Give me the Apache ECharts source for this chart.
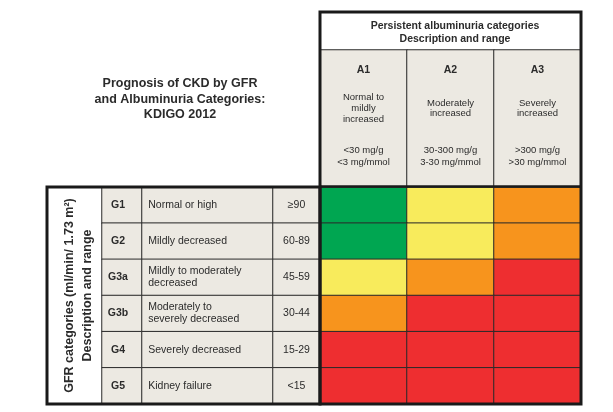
<!DOCTYPE html>
<html><head><meta charset="utf-8">
<script src="https://cdn.jsdelivr.net/npm/echarts@6/dist/echarts.min.js"></script>
<style>html,body{margin:0;padding:0;background:#fff}#c{width:613px;height:412px}</style>
</head><body><div id="c"></div>
<script>
const albCodes = ['A1', 'A2', 'A3'];
const albDesc = ['Normal to\nmildly\nincreased', 'Moderately\nincreased', 'Severely\nincreased'];
const albRange = ['<30 mg/g\n<3 mg/mmol', '30-300 mg/g\n3-30 mg/mmol', '>300 mg/g\n>30 mg/mmol'];
const gfrCodes = ['G1', 'G2', 'G3a', 'G3b', 'G4', 'G5'];
const gfrDesc = ['Normal or high', 'Mildly decreased', 'Mildly to moderately\ndecreased', 'Moderately to\nseverely decreased', 'Severely decreased', 'Kidney failure'];
const gfrRange = ['\u226590', '60-89', '45-59', '30-44', '15-29', '<15'];
// risk level per GFR row (G1..G5) and albuminuria column (A1..A3): 0 low, 1 moderate, 2 high, 3 very high
const riskLevels = [
  [0, 1, 2],
  [0, 1, 2],
  [1, 2, 3],
  [2, 3, 3],
  [3, 3, 3],
  [3, 3, 3]
];
const riskColors = ['#00a651', '#f8eb5c', '#f7941d', '#ee2e30'];

const FONT = '"Liberation Sans", Arial, Helvetica, sans-serif';
const TXT = '#2b2b2b';
const BEIGE = '#ece9e2';
const LINE = '#2a2a2a';

function hiddenCat(data, gridIndex, inverse) {
  return { type: 'category', data: data, gridIndex: gridIndex, inverse: !!inverse,
    axisLine: { show: false }, axisTick: { show: false }, axisLabel: { show: false }, splitLine: { show: false } };
}

const riskData = [];
riskLevels.forEach((row, r) => row.forEach((v, c) => {
  riskData.push({ value: [c, r, v], itemStyle: { color: riskColors[v] } });
}));

const headerData = albCodes.map((a, i) => [i, 0, 0]);
const rowData = gfrCodes.map((g, i) => [0, i, 0]);

const chart = echarts.init(document.getElementById('c'), null, { renderer: 'canvas' });

const xAxes = [
  hiddenCat(albCodes, 0),
  hiddenCat(albCodes, 1),
  hiddenCat(['code'], 2),
  hiddenCat(['desc'], 3),
  hiddenCat(['range'], 4)
];
const yAxes = [
  hiddenCat(gfrCodes, 0, true),
  hiddenCat(['hdr'], 1),
  Object.assign(hiddenCat(gfrCodes, 2, true), {
    name: 'GFR categories (ml/min/ 1.73 m\u00b2)\nDescription and range',
    nameLocation: 'middle', nameRotate: 90, nameGap: 5,
    nameTextStyle: { fontFamily: FONT, fontWeight: 'bold', fontSize: 12.5, color: TXT, lineHeight: 18, align: 'center' }
  }),
  hiddenCat(gfrCodes, 3, true),
  hiddenCat(gfrCodes, 4, true)
];

const cellStyle = { color: BEIGE, borderColor: LINE, borderWidth: 1 };

const option = {
  animation: false,
  backgroundColor: '#ffffff',
  title: [
    { text: 'Prognosis of CKD by GFR\nand Albuminuria Categories:\nKDIGO 2012', left: 175, top: 71, textAlign: 'center',
      textStyle: { fontFamily: FONT, fontWeight: 'bold', fontSize: 12.5, color: TXT, lineHeight: 15.5 } },
    { text: 'Persistent albuminuria categories\nDescription and range', left: 450, top: 15, textAlign: 'center',
      textStyle: { fontFamily: FONT, fontWeight: 'bold', fontSize: 10.5, color: TXT, lineHeight: 13 } }
  ],
  grid: [
    { left: 320, top: 187, width: 261, height: 217 },
    { left: 320, top: 50, width: 261, height: 137 },
    { left: 102, top: 187, width: 40, height: 217 },
    { left: 142, top: 187, width: 131, height: 217 },
    { left: 273, top: 187, width: 47, height: 217 }
  ],
  xAxis: xAxes,
  yAxis: yAxes,
  series: [
    { type: 'heatmap', xAxisIndex: 0, yAxisIndex: 0, data: riskData,
      itemStyle: { borderColor: LINE, borderWidth: 1 }, emphasis: { disabled: true } },
    { type: 'heatmap', xAxisIndex: 1, yAxisIndex: 1, data: headerData, itemStyle: cellStyle, emphasis: { disabled: true },
      label: { show: true, offset: [0, -48], formatter: p => albCodes[p.value[0]],
        fontFamily: FONT, fontWeight: 'bold', fontSize: 10.5, color: TXT } },
    { type: 'heatmap', xAxisIndex: 1, yAxisIndex: 1, data: headerData, itemStyle: { color: 'rgba(0,0,0,0)' }, emphasis: { disabled: true },
      label: { show: true, offset: [0, -10], formatter: p => albDesc[p.value[0]],
        fontFamily: FONT, fontSize: 9.5, color: TXT, lineHeight: 10.7 } },
    { type: 'heatmap', xAxisIndex: 1, yAxisIndex: 1, data: headerData, itemStyle: { color: 'rgba(0,0,0,0)' }, emphasis: { disabled: true },
      label: { show: true, offset: [0, 38], formatter: p => albRange[p.value[0]],
        fontFamily: FONT, fontSize: 9.5, color: TXT, lineHeight: 11.5 } },
    { type: 'heatmap', xAxisIndex: 2, yAxisIndex: 2, data: rowData, itemStyle: cellStyle, emphasis: { disabled: true },
      label: { show: true, offset: [-4, 0], formatter: p => gfrCodes[p.value[1]],
        fontFamily: FONT, fontWeight: 'bold', fontSize: 10.5, color: TXT } },
    { type: 'heatmap', xAxisIndex: 3, yAxisIndex: 3, data: rowData, itemStyle: cellStyle, emphasis: { disabled: true },
      label: { show: true, position: 'insideLeft', distance: 7, formatter: p => gfrDesc[p.value[1]],
        fontFamily: FONT, fontSize: 10.5, color: TXT, lineHeight: 12 } },
    { type: 'heatmap', xAxisIndex: 4, yAxisIndex: 4, data: rowData, itemStyle: cellStyle, emphasis: { disabled: true },
      label: { show: true, formatter: p => gfrRange[p.value[1]],
        fontFamily: FONT, fontSize: 10.5, color: TXT } }
  ],
  graphic: [
    { type: 'rect', z: 100, shape: { x: 47, y: 187, width: 273, height: 217 },
      style: { fill: 'none', stroke: '#1a1a1a', lineWidth: 3 } },
    { type: 'rect', z: 100, shape: { x: 320, y: 12, width: 261, height: 392 },
      style: { fill: 'none', stroke: '#1a1a1a', lineWidth: 3 } },
    { type: 'line', z: 100, shape: { x1: 320, y1: 186.5, x2: 581, y2: 186.5 },
      style: { stroke: '#1a1a1a', lineWidth: 2.5 } }
  ]
};
chart.setOption(option);
</script>
</body></html>
